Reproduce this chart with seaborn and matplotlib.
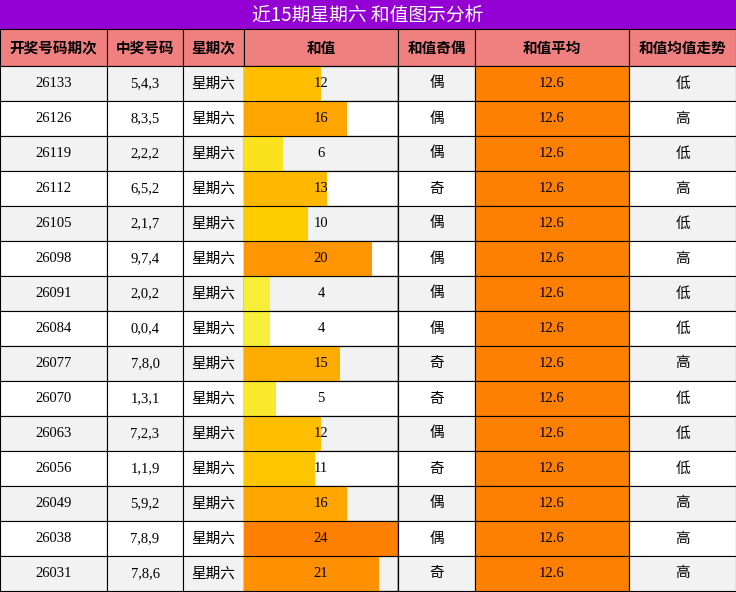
import matplotlib
matplotlib.use("Agg")
import matplotlib.pyplot as plt
import seaborn as sns
import numpy as np
import pandas as pd
from matplotlib.patches import Rectangle
from matplotlib.colors import LinearSegmentedColormap

title = "近15期星期六 和值图示分析"
headers = ["开奖号码期次", "中奖号码", "星期次", "和值", "和值奇偶", "和值平均", "和值均值走势"]
issues = ["26133","26126","26119","26112","26105","26098","26091","26084","26077","26070","26063","26056","26049","26038","26031"]
numbers = ["5,4,3","8,3,5","2,2,2","6,5,2","2,1,7","9,7,4","2,0,2","0,0,4","7,8,0","1,3,1","7,2,3","1,1,9","5,9,2","7,8,9","7,8,6"]
weekday = ["星期六"] * 15
sums = [12,16,6,13,10,20,4,4,15,5,12,11,16,24,21]
parity = ["偶","偶","偶","奇","偶","偶","偶","偶","奇","奇","偶","奇","偶","偶","奇"]
avg = [12.6] * 15
trend = ["低","高","低","高","低","高","低","低","高","低","低","低","高","高","高"]

W, H = 736, 592
cols = [0,107,183,244,398,475,629,736]
top_title, top_head, top_rows, row_h = 0, 29, 66, 35

fig = plt.figure(figsize=(W/100, H/100), dpi=100)
ax = fig.add_axes([0,0,1,1])
ax.set_xlim(0, W); ax.set_ylim(H, 0); ax.axis("off")
cjk = ["Noto Sans CJK SC", "DejaVu Sans"]
serif = ["Liberation Serif", "Noto Sans CJK SC"]

ax.add_patch(Rectangle((0,0), W, top_head, color="#9400D3"))
ax.text(W/2, top_head/2+1, title, color="white", ha="center", va="center", fontsize=13.5, family=cjk)
for i in range(7):
    ax.add_patch(Rectangle((cols[i], top_head), cols[i+1]-cols[i], top_rows-top_head, facecolor="#F08080", edgecolor="black", lw=0.8))
    ax.text((cols[i]+cols[i+1])/2, (top_head+top_rows)/2, headers[i], ha="center", va="center", fontsize=10.5, fontweight="bold", family=cjk)

cmap = LinearSegmentedColormap.from_list("y", [(0,"#F7EE3A"),(0.1,"#FCE21C"),(0.3,"#FFCC00"),(0.4,"#FFBF00"),(0.6,"#FFA500"),(0.8,"#FF9500"),(1,"#FF8000")])
for r in range(15):
    y = top_rows + r*row_h
    bg = "#F2F2F2" if r % 2 == 0 else "white"
    for i in range(7):
        fc = "#FF8000" if i == 5 else bg
        ax.add_patch(Rectangle((cols[i], y), cols[i+1]-cols[i], row_h, facecolor=fc, edgecolor="black", lw=0.8, zorder=1))
    vals = [issues[r], numbers[r], weekday[r], str(sums[r]), parity[r], f"{avg[r]:.1f}", trend[r]]
    for i, v in enumerate(vals):
        fam = cjk if i in (2,4,6) else serif
        ax.text((cols[i]+cols[i+1])/2, y+row_h/2, v, ha="center", va="center", fontsize=10.5, family=fam, zorder=5)

# bars via seaborn
bx = fig.add_axes([cols[3]/W, 1-(top_rows+15*row_h)/H, (cols[4]-cols[3])/W, 15*row_h/H])
df = pd.DataFrame({"idx": [str(i) for i in range(15)], "sum": sums})
pal = [cmap((v-4)/20) for v in sums]
sns.barplot(data=df, x="sum", y="idx", hue="idx", palette=pal, orient="h", width=1.0, ax=bx, legend=False, saturation=1)
bx.set_xlim(0, 24); bx.set_ylim(14.5, -0.5)
bx.patch.set_alpha(0); bx.axis("off")
for r in range(15):
    bx.text(12, r, str(sums[r]), ha="center", va="center", fontsize=10.5, family=serif)
for r in range(16):
    bx.axhline(r-0.5, color="black", lw=0.8)
bx.axvline(24, color="black", lw=1)
ax.add_patch(Rectangle((cols[3], top_rows), cols[4]-cols[3], 15*row_h, fill=False, edgecolor="black", lw=0.8, zorder=2))
# hide text drawn in main axis for sums column (we redraw on bars)
for t in ax.texts:
    if t.get_position()[0] == (cols[3]+cols[4])/2 and t.get_position()[1] > top_rows:
        t.set_visible(False)
fig.savefig("out.png", dpi=100)
